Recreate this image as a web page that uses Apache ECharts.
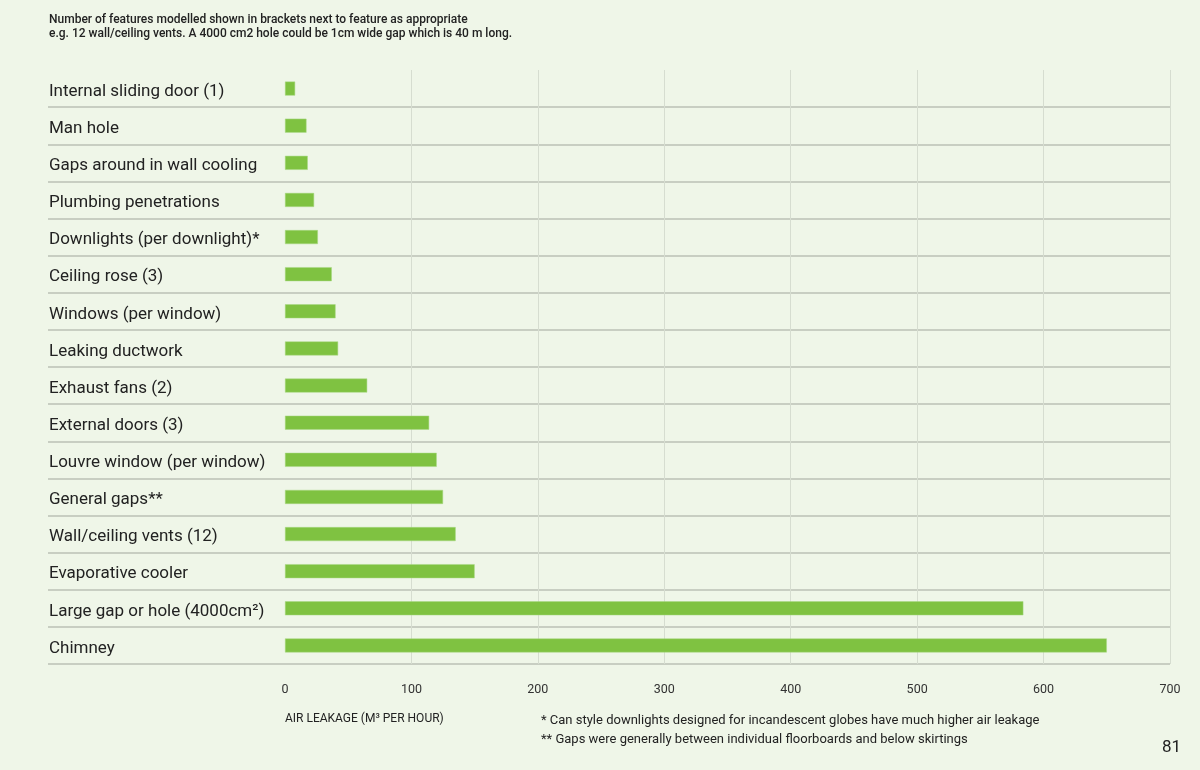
<!DOCTYPE html>
<html>
<head>
<meta charset="utf-8">
<script src="https://cdn.jsdelivr.net/npm/echarts@6/dist/echarts.min.js"></script>
<style>
html,body{margin:0;padding:0;background:#eff6e8;}
#chart{width:1200px;height:770px;}
</style>
</head>
<body>
<div id="chart"></div>
<script>
const categories = [
  'Internal sliding door (1)',
  'Man hole',
  'Gaps around in wall cooling',
  'Plumbing penetrations',
  'Downlights (per downlight)*',
  'Ceiling rose (3)',
  'Windows (per window)',
  'Leaking ductwork',
  'Exhaust fans (2)',
  'External doors (3)',
  'Louvre window (per window)',
  'General gaps**',
  'Wall/ceiling vents (12)',
  'Evaporative cooler',
  'Large gap or hole (4000cm\u00B2)',
  'Chimney'
];
const values = [8, 17, 18, 23, 26, 37, 40, 42, 65, 114, 120, 125, 135, 150, 584, 650];
const xTicks = [0, 100, 200, 300, 400, 500, 600, 700];
const headerLines = [
  'Number of features modelled shown in brackets next to feature as appropriate',
  'e.g. 12 wall/ceiling vents. A 4000 cm2 hole could be 1cm wide gap which is 40 m long.'
];
const axisTitle = 'AIR LEAKAGE (M\u00B3 PER HOUR)';
const footnotes = [
  '* Can style downlights designed for incandescent globes have much higher air leakage',
  '** Gaps were generally between individual floorboards and below skirtings'
];
const pageNumber = '81';

const font = 'Roboto, "Noto Sans", sans-serif';
const chart = echarts.init(document.getElementById('chart'), null, {renderer: 'canvas'});
chart.setOption({
  backgroundColor: '#eff6e8',
  animation: false,
  grid: [
    {left: 48, right: 30, top: 70, bottom: 106},
    {left: 285, right: 30, top: 70, bottom: 106}
  ],
  xAxis: [
    {gridIndex: 0, type: 'value', show: false, min: 0, max: 1},
    {
      gridIndex: 1, type: 'value', min: xTicks[0], max: xTicks[xTicks.length - 1], interval: 100,
      axisLine: {show: false}, axisTick: {show: false},
      axisLabel: {margin: 19, color: '#333', fontSize: 12.5, fontFamily: font,
        formatter: v => xTicks.includes(v) ? String(v) : ''},
      splitLine: {show: true, showMinLine: false, lineStyle: {color: '#d6ddd0', width: 1}}
    }
  ],
  yAxis: [
    {
      gridIndex: 0, type: 'category', data: categories, inverse: true,
      axisLine: {show: false}, axisTick: {show: false},
      axisLabel: {inside: true, margin: 1, align: 'left',
        formatter: v => '{a|' + v + '}',
        rich: {a: {color: '#222', fontSize: 17, fontFamily: font, padding: [6, 0, 0, 0]}}},
      splitLine: {show: true, showMinLine: false, lineStyle: {color: '#c8cec2', width: 2}}
    },
    {gridIndex: 1, type: 'category', data: categories, inverse: true, show: false}
  ],
  series: [{
    type: 'bar', xAxisIndex: 1, yAxisIndex: 1, data: values, barWidth: 14,
    itemStyle: {color: '#7fc241', borderColor: '#a9d884', borderWidth: 0.5},
    silent: true
  }],
  graphic: [
    {type: 'text', left: 49, top: 14, style: {text: headerLines[0], font: '500 12px ' + font, fill: '#222'}},
    {type: 'text', left: 49, top: 28, style: {text: headerLines[1], font: '500 12px ' + font, fill: '#222'}},
    {type: 'text', left: 285, top: 713, style: {text: axisTitle, font: '12px ' + font, fill: '#222'}},
    {type: 'text', left: 541, top: 714, style: {text: footnotes[0], font: '13px ' + font, fill: '#222'}},
    {type: 'text', left: 541, top: 733, style: {text: footnotes[1], font: '13px ' + font, fill: '#222'}},
    {type: 'text', left: 1162, top: 739, style: {text: pageNumber, font: '17px ' + font, fill: '#222'}}
  ]
});
</script>
</body>
</html>
